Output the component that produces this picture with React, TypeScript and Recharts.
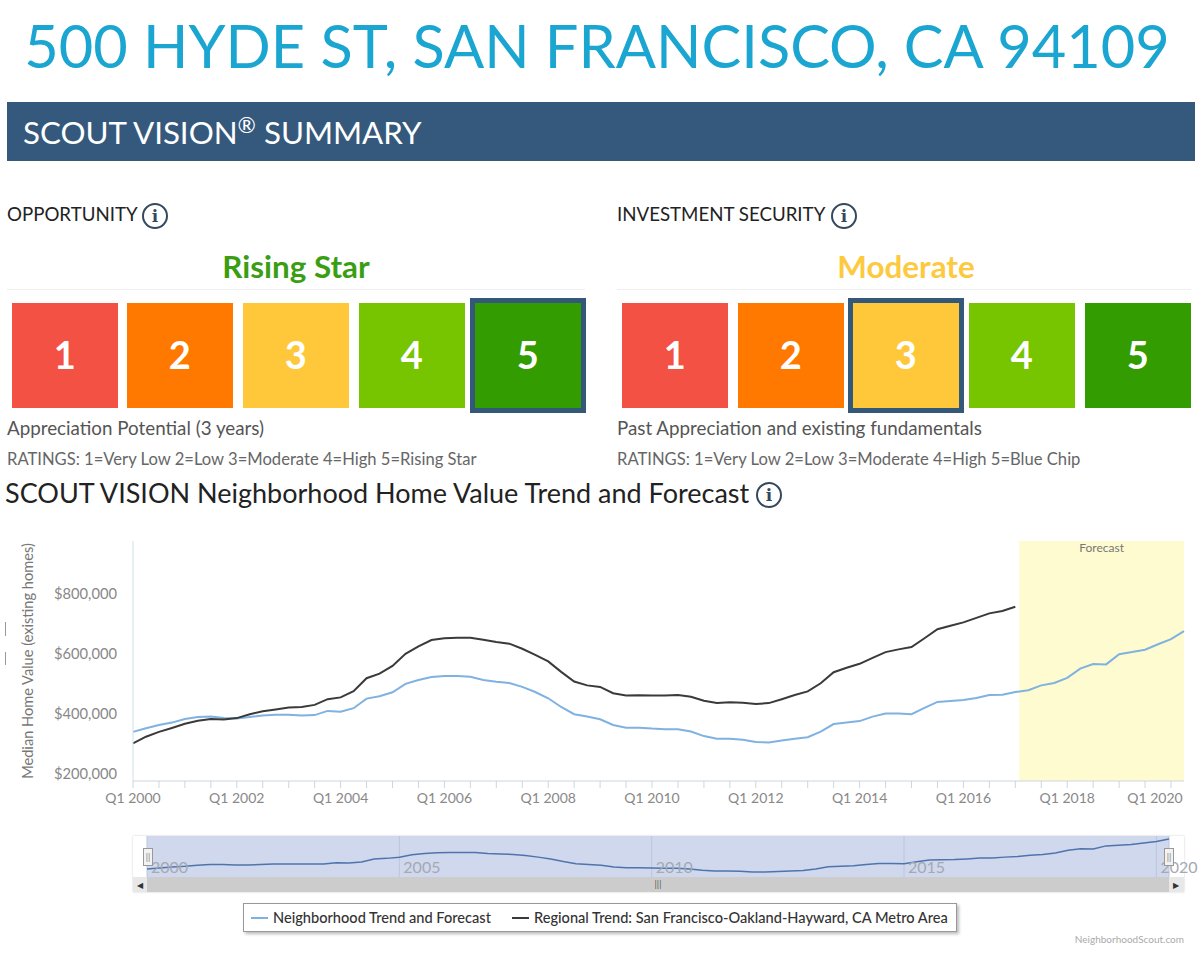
import { CartesianGrid, Legend, Line, LineChart, ReferenceArea, XAxis, YAxis } from "recharts";

const years = ["2000","2001","2002","2003","2004","2005","2006","2007","2008","2009","2010","2011","2012","2013","2014","2015","2016","2017","2018","2019","2020"];
const quarterNames = years.flatMap((y) => ["Q1","Q2","Q3","Q4"].map((q) => `${q} ${y}`)).slice(0, 82);

// thousands of dollars
const neighborhood = [
  337,349,360,368,380,387,388,383,382,387,392,394,394,392,393,407,404,416,448,456,
  469,497,510,520,523,523,521,510,504,500,487,470,449,420,396,388,379,360,351,351,
  348,346,346,338,323,314,314,311,303,302,308,314,319,338,363,368,373,388,398,398,
  396,417,437,440,443,450,460,461,470,476,492,500,517,548,563,562,596,603,611,629,
  646,673,
];
const regional = [
  299,321,337,350,364,374,380,378,383,396,406,412,418,420,427,446,452,473,516,531,
  557,597,622,643,649,651,651,644,637,631,614,594,572,537,505,492,487,466,458,459,
  458,458,460,454,441,433,436,434,430,433,446,460,472,499,536,551,564,584,603,612,
  620,649,679,691,702,717,732,740,754,
];
const chartData = quarterNames.map((name, i) => ({
  t: i,
  name,
  neighborhood: neighborhood[i] * 1000,
  regional: regional[i] !== undefined ? regional[i] * 1000 : null,
}));

const yTicks = [200000, 400000, 600000, 800000];
const minorTicks = quarterNames.map((_, i) => i).filter((i) => i % 2 === 0);
const navYears = [0, 20, 40, 60, 80];
const ratingColors = ["#f45145", "#ff7800", "#ffc83a", "#76c500", "#329c00"];
const ratingLefts = [[12,127,243,359,475],[622,738,853,969,1085]];

const LATO = "Lato, sans-serif";

function T({ x, y, size, color, children, weight, right, center, ls }: any) {
  // y is the vertical centre of the text
  const style: any = {
    position: "absolute", top: y, fontFamily: LATO, fontSize: size, color, whiteSpace: "nowrap",
    lineHeight: 0, fontWeight: weight ?? 400, letterSpacing: ls,
  };
  if (right !== undefined) style.right = 1200 - right;
  else if (center) { style.left = x; style.transform = "translateX(-50%)"; }
  else style.left = x;
  return <div style={style}>{children}</div>;
}

function Info({ x, y }: { x: number; y: number }) {
  return (
    <div style={{
      position: "absolute", left: x - 13, top: y - 13, width: 22, height: 22, borderRadius: "50%",
      border: "2px solid #34495e", textAlign: "center", lineHeight: "22px", fontFamily: "'DejaVu Serif', serif",
      fontWeight: 700, fontSize: 17, color: "#34495e", boxSizing: "content-box",
    }}>i</div>
  );
}

function Box({ l, t, w, h, bg, extra }: any) {
  return <div style={{ position: "absolute", left: l, top: t, width: w, height: h, background: bg, ...extra }} />;
}

function Ratings({ group, active }: { group: number; active: number }) {
  return (
    <>
      {ratingLefts[group].map((left, i) => (
        <div key={i} style={{
          position: "absolute", left, top: 303, width: 105.5, height: 105, background: ratingColors[i],
          color: "#fff", fontFamily: LATO, fontWeight: 700, fontSize: 38, textAlign: "center", lineHeight: "102px",
          outline: i === active ? "5px solid #34587a" : undefined, outlineOffset: 0,
        }}>{i + 1}</div>
      ))}
    </>
  );
}

function LegendBox({ payload }: any) {
  return (
    <div style={{
      width: 712, height: 27, background: "#fff", border: "1px solid #999", boxShadow: "2px 2px 3px #bbb",
      display: "flex", alignItems: "center", fontFamily: LATO, fontSize: 14.6, color: "#333", fontWeight: 500,
    }}>
      {(payload ?? []).map((p: any, i: number) => (
        <span key={i} style={{ display: "flex", alignItems: "center", marginLeft: i === 0 ? 7 : 21 }}>
          <span style={{ width: 17, height: 2, background: p.color, marginRight: 5 }} />
          {p.value}
        </span>
      ))}
    </div>
  );
}

function MainTick({ x, y, payload }: any) {
  if (payload.value % 8 !== 0) return null;
  return (
    <text x={Math.min(x, 1155)} y={y + 12} textAnchor="middle" fontFamily={LATO} fontSize={14} fill="#888">
      {quarterNames[payload.value]}
    </text>
  );
}

function NavTick({ x, y, payload }: any) {
  return (
    <text x={x + 4} y={y - 12} fontFamily={LATO} fontSize={16} fill="#a5a9b3">
      {quarterNames[payload.value].slice(3)}
    </text>
  );
}

export default function App() {
  return (
    <div style={{ position: "absolute", left: 0, top: 0, width: 1200, height: 965, background: "#fff", overflow: "hidden" }}>
      <T x={597} y={45} size={59.5} color="#1ba6d2" center>500 HYDE ST, SAN FRANCISCO, CA 94109</T>
      <Box l={7} t={102} w={1188} h={59} bg="#34597c" />
      <T x={23} y={125} size={31.3} color="#fff">
        SCOUT VISION<sup style={{ fontSize: 22, lineHeight: 0 }}>®</sup> SUMMARY
      </T>

      <T x={7} y={214} size={18.7} color="#222">OPPORTUNITY</T>
      <Info x={155} y={216} />
      <T x={617} y={214} size={18.7} color="#222">INVESTMENT SECURITY</T>
      <Info x={844} y={216} />

      <T x={296} y={266} size={31.4} color="#3a9e13" weight={700} center>Rising Star</T>
      <T x={906} y={266} size={31.4} color="#fdc93f" weight={700} center>Moderate</T>
      <Box l={7} t={289} w={578} h={1} bg="#eee" />
      <Box l={617} t={289} w={574} h={1} bg="#eee" />

      <Ratings group={0} active={4} />
      <Ratings group={1} active={2} />

      <T x={7} y={428} size={18.8} color="#555">Appreciation Potential (3 years)</T>
      <T x={617} y={428} size={18.8} color="#555">Past Appreciation and existing fundamentals</T>
      <T x={7} y={459} size={16.6} color="#666">RATINGS: 1=Very Low 2=Low 3=Moderate 4=High 5=Rising Star</T>
      <T x={617} y={459} size={16.6} color="#666">RATINGS: 1=Very Low 2=Low 3=Moderate 4=High 5=Blue Chip</T>
      <T x={5} y={493} size={27} color="#222">SCOUT VISION Neighborhood Home Value Trend and Forecast</T>
      <Info x={769} y={495} />

      <Box l={5} t={622} w={1} h={14} bg="#999" />
      <Box l={5} t={652} w={1} h={13} bg="#999" />

      {/* main chart */}
      <div style={{ position: "absolute", left: 0, top: 0 }}>
        <LineChart width={1200} height={965} data={chartData} margin={{ top: 541, right: 16, left: 0, bottom: 125 }}>
          <XAxis
            dataKey="t" type="number" domain={[0, 81]} ticks={minorTicks} interval={0} height={30}
            stroke="#ccd6dd" tickLine={{ stroke: "#ccd6dd" }} tickSize={7} tickMargin={3}
            tick={<MainTick />}
          />
          <YAxis
            width={133} domain={[173300, 973300]} ticks={yTicks} tickLine={false} stroke="#cfe0ea" tickMargin={10}
            tickFormatter={(v: number) => `$${v.toLocaleString("en-US")}`}
            tick={{ fontFamily: LATO, fontSize: 14.7, fill: "#888", dy: 1 }}
            label={{
              value: "Median Home Value (existing homes)", angle: -90, position: "insideLeft", offset: 28,
              style: { fontFamily: LATO, fontSize: 14.6, fill: "#777", textAnchor: "middle" },
            }}
          />
          <ReferenceArea
            x1={68.3} x2={81} fill="#fffbd0" fillOpacity={1} stroke="none"
            label={{ value: "Forecast", position: "insideTop", offset: 2, style: { fontFamily: LATO, fontSize: 12, fill: "#777" } }}
          />
          <Legend
            verticalAlign="bottom"
            content={<LegendBox />}
            wrapperStyle={{ position: "absolute", left: 243, top: 903, width: 714, height: 29 }}
          />
          <Line dataKey="neighborhood" name="Neighborhood Trend and Forecast" stroke="#7fb2e0" strokeWidth={2} dot={false} isAnimationActive={false} />
          <Line dataKey="regional" name="Regional Trend: San Francisco-Oakland-Hayward, CA Metro Area" stroke="#3a3a3a" strokeWidth={2} dot={false} isAnimationActive={false} />
        </LineChart>
      </div>

      {/* range navigator */}
      <Box l={133} t={836} w={1051} h={56} bg="#fff" extra={{ boxShadow: "0 0 2px #ccc" }} />
      <div style={{ position: "absolute", left: 0, top: 836 }}>
        <LineChart width={1200} height={42} data={chartData} margin={{ top: 0, right: 31, left: 147, bottom: 0 }}>
          <CartesianGrid horizontal={false} stroke="#bcc6dd" fill="#cfd8ec" />
          <XAxis dataKey="t" type="number" domain={[0, 81]} ticks={navYears} interval={0} height={1} axisLine={false} tickLine={false} tick={<NavTick />} />
          <YAxis hide domain={[247, 707]} dataKey="navValue" />
          <Line data={chartData.map((d) => ({ t: d.t, navValue: d.neighborhood / 1000 }))} dataKey="navValue" stroke="#4f74ad" strokeWidth={1.5} dot={false} isAnimationActive={false} />
        </LineChart>
      </div>
      <Box l={147} t={877} w={1022} h={15} bg="#cccccc" />
      <Box l={133} t={877} w={14} h={15} bg="#e8e8e8" />
      <Box l={1169} t={877} w={15} h={15} bg="#e8e8e8" />
      <T x={137} y={885} size={8} color="#333">◀</T>
      <T x={1173} y={885} size={8} color="#333">▶</T>
      <T x={658} y={884} size={9} color="#555" center>|||</T>
      <div style={{ position: "absolute", left: 143, top: 848, width: 8, height: 16, background: "#f2f2f2", border: "1px solid #999", textAlign: "center", fontSize: 9, lineHeight: "15px", color: "#777", fontFamily: LATO }}>||</div>
      <div style={{ position: "absolute", left: 1164, top: 848, width: 8, height: 16, background: "#f2f2f2", border: "1px solid #999", textAlign: "center", fontSize: 9, lineHeight: "15px", color: "#777", fontFamily: LATO }}>||</div>

      <T right={1184} y={939} size={10} color="#aaa">NeighborhoodScout.com</T>
    </div>
  );
}
